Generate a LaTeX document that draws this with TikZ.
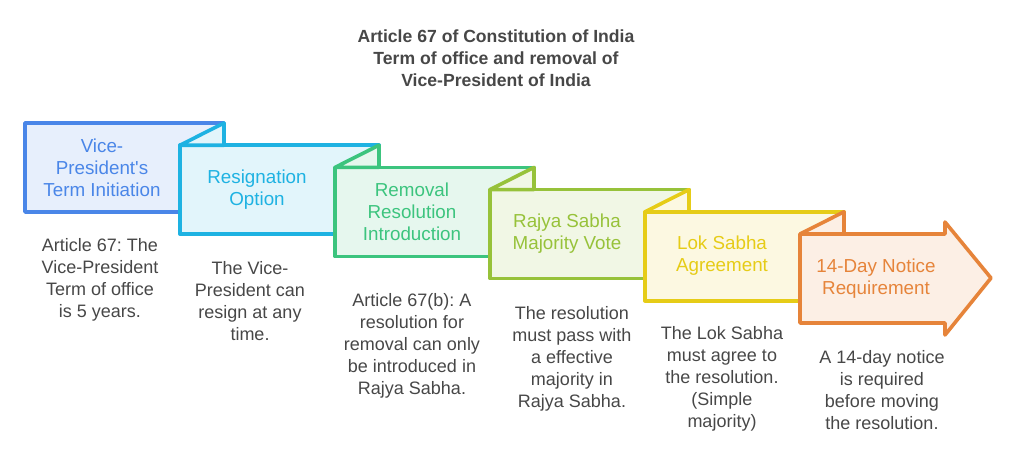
\documentclass[tikz,border=0pt]{standalone}
\usepackage{fontspec}
\setmainfont{Liberation Sans}
\usetikzlibrary{calc}
\frenchspacing

\definecolor{cA}{HTML}{4A86E8}
\definecolor{cB}{HTML}{1EB2E2}
\definecolor{cC}{HTML}{3CC47E}
\definecolor{cD}{HTML}{97C23A}
\definecolor{cE}{HTML}{E6CC17}
\definecolor{cF}{HTML}{E6843A}
\definecolor{txt}{HTML}{474747}

\begin{document}
\begin{tikzpicture}[x=0.5pt, y=-0.5pt,
    box/.style={line width=1.8pt, line join=round},
    lbl/.style={align=center, inner sep=0pt, font=\fontsize{9.4}{11}\selectfont},
    desc/.style={align=center, inner sep=0pt, anchor=north, text=txt,
      font=\fontsize{9}{11}\selectfont},
    ttl/.style={align=center, inner sep=0pt, text=txt,
      font=\bfseries\fontsize{8.8}{11}\selectfont}]
  \useasboundingbox (0,0) rectangle (1018,468);

  \node[ttl] (title) at (496,58) {Article 67 of Constitution of India\\Term of office and removal of\\Vice-President of India};

  % first box
  \draw[box, draw=cA, fill=cA!13] (25,123) rectangle (224,212);

  % boxes with folds
  \foreach \i/\c in {2/cB,3/cC,4/cD,5/cE} {
    \pgfmathsetmacro{\L}{25+155*(\i-1)}
    \pgfmathsetmacro{\T}{123+22.2*(\i-1)}
    \pgfmathsetmacro{\P}{\L+44}
    \pgfmathsetmacro{\Q}{\T-22.2}
    \draw[box, draw=\c, fill=\c!13] (\L,\T) rectangle (\L+199,\T+89);
    \draw[box, draw=\c, fill=\c!13] (\L,\T) -- (\P,\Q) -- (\P,\T) -- cycle;
  }

  % last box is an arrow
  \draw[box, draw=cF, fill=cF!13] (800,234) -- (945,234) -- (945,222) -- (991,278)
    -- (945,335) -- (945,323) -- (800,323) -- cycle;
  \draw[box, draw=cF, fill=cF!13] (800,234) -- (844,211.8) -- (844,234) -- cycle;

  \node[lbl, text=cA] (s1) at (102,168) {Vice-\\President\textquotesingle s\\Term Initiation};
  \node[lbl, text=cB] (s2) at (257,190) {Resignation\\Option};
  \node[lbl, text=cC] (s3) at (412,212) {Removal\\Resolution\\Introduction};
  \node[lbl, text=cD] (s4) at (567,234) {Rajya Sabha\\Majority Vote};
  \node[lbl, text=cE] (s5) at (722,256) {Lok Sabha\\Agreement};
  \node[lbl, text=cF] (s6) at (876,279) {14-Day Notice\\Requirement};

  \node[desc] (d1) at (100,238) {Article 67: The\\Vice-President\\Term of office\\is 5 years.};
  \node[desc] (d2) at (250,261) {The Vice-\\President can\\resign at any\\time.};
  \node[desc] (d3) at (412,293) {Article 67(b): A\\resolution for\\removal can only\\be introduced in\\Rajya Sabha.};
  \node[desc] (d4) at (572,306) {The resolution\\must pass with\\a effective\\majority in\\Rajya Sabha.};
  \node[desc] (d5) at (722,326) {The Lok Sabha\\must agree to\\the resolution.\\(Simple\\majority)};
  \node[desc] (d6) at (882,350) {A 14-day notice\\is required\\before moving\\the resolution.};
\end{tikzpicture}
\end{document}
